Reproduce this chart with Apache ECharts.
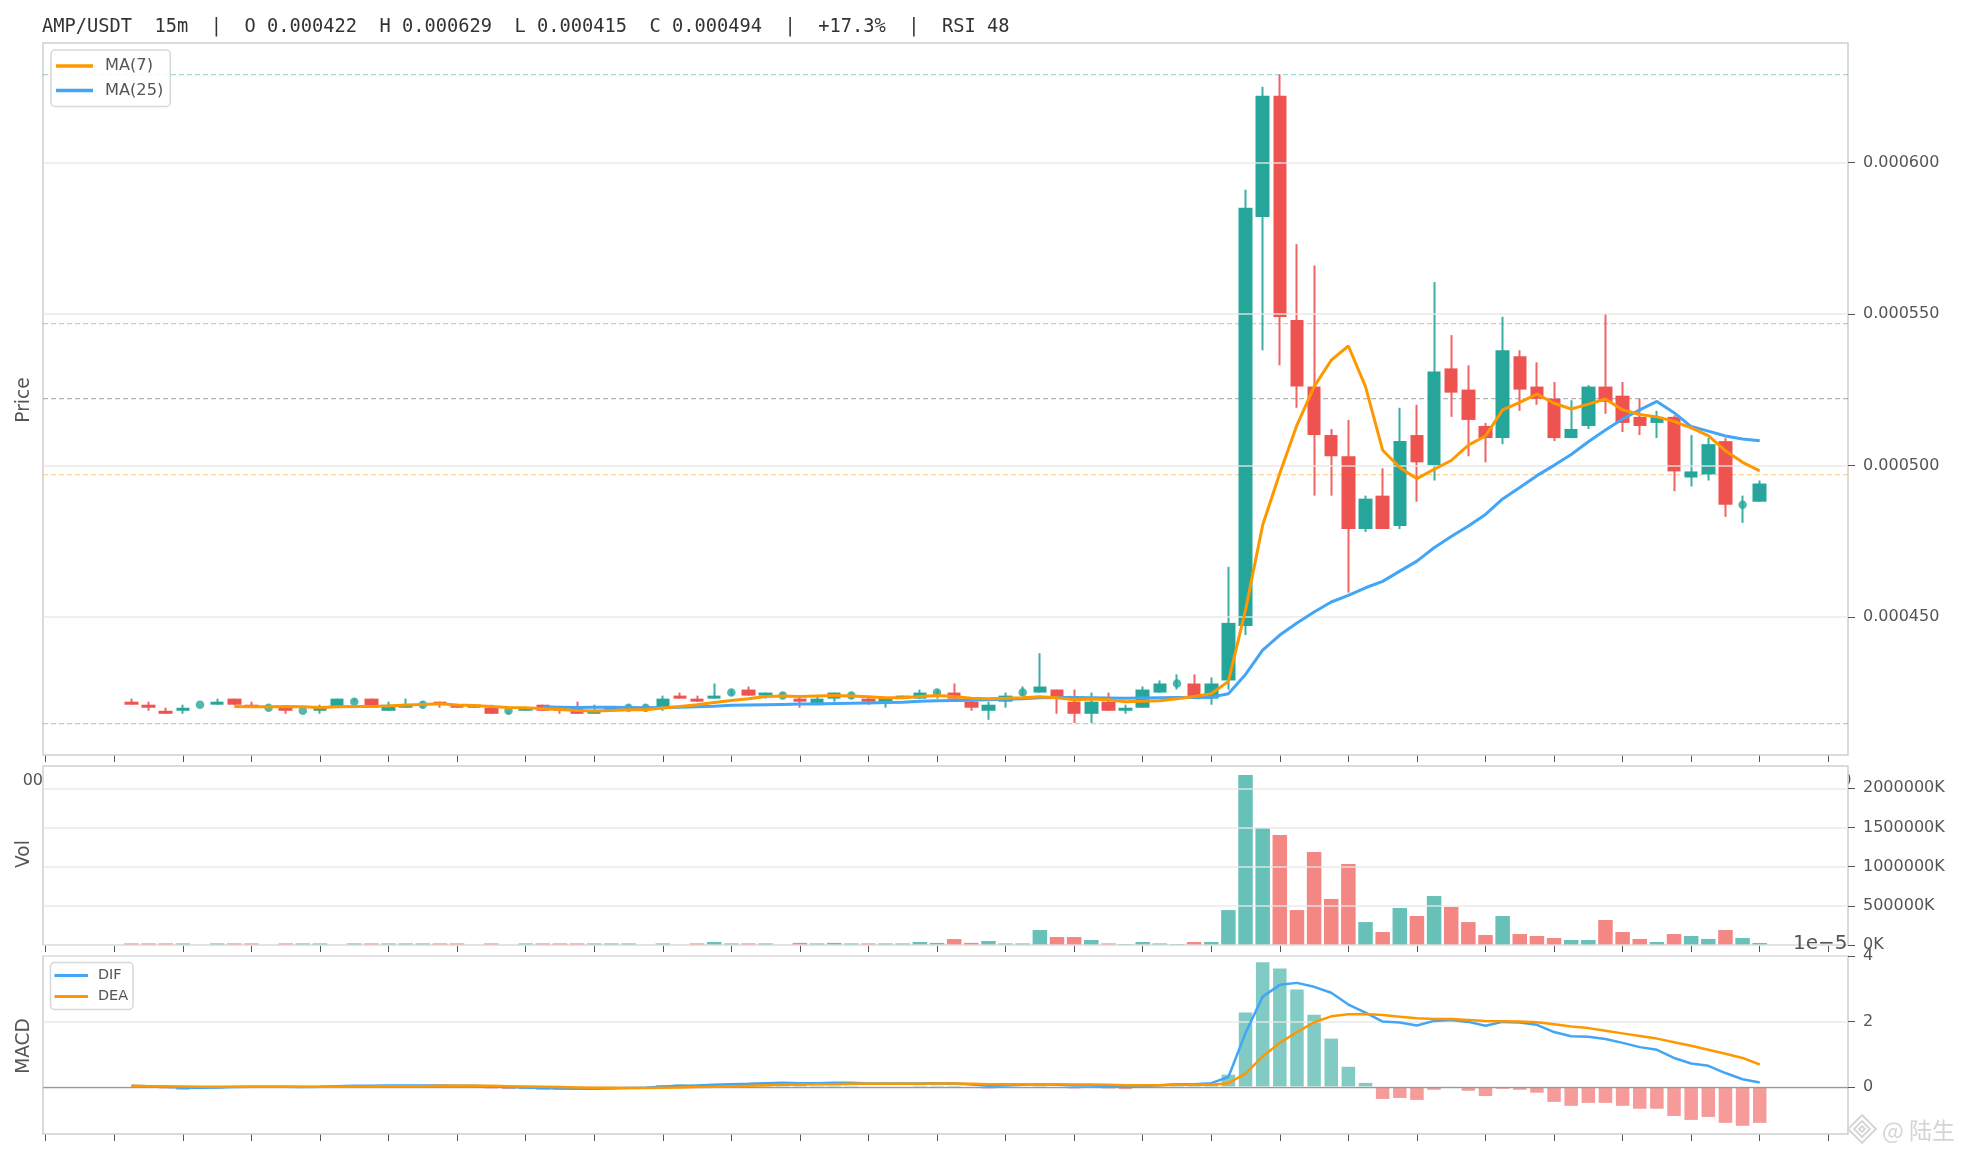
<!DOCTYPE html>
<html><head><meta charset="utf-8">
<style>html,body{margin:0;padding:0;background:#fff}#c{width:1962px;height:1156px}</style>
<script src="https://cdn.jsdelivr.net/npm/echarts@6/dist/echarts.min.js"></script>
</head><body><div id="c"></div>
<script>
// prices are in units of 0.000001 USDT
const opens=[422,421,419,419,421,421,423,421,420,420,419,419,420,422,423,419,420,421,422,421,420,420,419,419,421,420,420,418,419,420,420,420,424,423,423,425,426,424,424,423,421,423,424,423,422,423,423,425,425,422,419,422,425,425,426,422,418,422,419,420,425,428,428,423,429,447,582,622,548,526,510,503,479,490,480,510,500,532,525,513,509,536,526,522,509,513,526,523,516,514,516,496,497,508,487,488];
const closes=[421,420,418,420,421,422,421,420,420,419,419,420,423,422,420,421,421,421,421,420,421,418,419,420,419,419,418,419,420,420,420,423,423,422,424,425,424,425,424,422,423,425,424,422,423,424,425,425,423,420,421,424,425,427,423,418,422,419,420,426,428,428,423,428,448,585,622,549,526,510,503,479,489,479,508,501,531,524,515,509,538,525,522,509,512,526,521,514,513,516,498,498,507,487,487,494];
const lows=[421,419,418,418,421,421,421,420,420,418,419,418,420,422,420,419,420,420,420,420,420,418,418,419,419,418,418,418,419,419,419,419,423,422,423,424,424,423,423,420,421,422,423,421,420,423,423,423,423,419,416,420,424,425,418,415,415,419,418,420,425,426,423,421,426,444,538,533,519,490,490,458,478,479,479,488,495,516,503,501,507,518,520,508,509,512,517,511,510,509,491.5,493,495,483,481,488];
const highs=[423,422,420,421,421,423,423,422,421,420,419,421,423,423,423,422,423,422,422,421,421,421,419,420,421,420,422,421,420,421,421,424,425,424,428,426,427,425,425,424,424,425,425,424,423,424,426,426,428,423,422,425,427,438,426,426,425,425,421,427,429,431,431,430,466.5,591,625,629,573,566,512,515,490,499,519,520,560.5,543,533,514,549,538,534,527.5,521.5,526.5,550,527.5,522,518,516.5,510,509,509,490,495];
const ma7=[420.4,420.3,420.3,420.4,420.3,420.1,420.3,420.4,420.4,420.6,420.9,421.1,421.3,420.9,420.7,420.4,420.1,420,419.7,419.4,419.1,418.9,419.1,419.3,419.3,419.9,420.4,421,421.7,422.4,423,423.7,423.9,423.7,423.9,424,423.9,423.6,423.3,423.3,423.7,424,423.7,423.1,423,423.1,423.3,423.6,423.3,422.6,422.9,422.6,422,422.1,422.3,423,423.7,424.6,428.7,452.3,480.3,497.4,513.3,526,534.7,539.4,526,505,499.3,495.6,498.7,501.6,506.7,509.7,518.3,520.8,523.5,520.5,518.6,520.2,521.9,518.3,516.8,516,514.5,512.4,509.8,504.8,501,498.2];
const ma7Start=6;
const ma25=[420.3,420.2,420.1,420.2,420.2,420.1,420,420.1,420.2,420.3,420.5,420.8,420.9,421,421.1,421.2,421.2,421.4,421.5,421.6,421.7,421.8,422.1,422.3,422.4,422.5,422.6,422.8,423,423.3,423.4,423.4,423.3,423.2,423.1,423.2,423.3,423.4,423.4,423.5,424.6,431,439,444,448,451.6,454.9,457.1,459.6,461.7,465.1,468.4,472.8,476.5,480,483.8,488.9,492.7,496.6,500,503.6,507.8,511.7,515.3,518.3,521.1,517.4,512.8,511.3,509.7,508.7,508.1];
const ma25Start=24;
const refLevels=[629,547,522,497,415];
const refColors=['rgba(38,166,154,.42)','rgba(239,83,80,.42)','rgba(110,110,110,.5)','rgba(255,152,0,.42)','rgba(38,166,154,.42)'];
const volumes=[20000,20000,20000,20000,0,20000,20000,20000,0,20000,20000,20000,0,20000,20000,20000,20000,20000,20000,20000,0,20000,0,20000,20000,20000,20000,20000,20000,20000,0,20000,0,20000,38000,20000,20000,20000,0,27000,20000,27000,20000,20000,20000,20000,38000,27000,76000,27000,51000,20000,20000,191000,102000,102000,64000,20000,13000,38000,20000,13000,38000,38000,446000,2170000,1492000,1403000,446000,1186000,587000,1033000,293000,166000,472000,370000,625000,485000,293000,128000,370000,140000,115000,89000,64000,64000,319000,166000,77000,38000,140000,115000,77000,191000,89000,26000];
const macdHist=[0,0,-.04,-.08,-.06,-.04,-.02,0,0,0,-.02,0,.04,.04,.04,.04,.04,.04,.02,0,0,-.04,-.06,-.06,-.08,-.08,-.08,-.06,-.04,0,.02,.06,.08,.08,.1,.1,.1,.1,.1,.08,.04,.04,.04,.01,.01,.01,.04,.04,.04,-.01,-.04,-.02,.01,.04,0,-.04,0,-.04,-.06,-.02,0,.04,.04,.07,.38,2.28,3.81,3.62,2.98,2.21,1.48,.62,.13,-.36,-.33,-.39,-.08,.01,-.11,-.27,-.05,-.08,-.17,-.45,-.57,-.48,-.48,-.57,-.66,-.66,-.88,-1,-.91,-1.09,-1.18,-1.09];
const dif=[.04,.03,.01,-.02,-.02,-.01,0,.01,.01,.01,0,.01,.03,.04,.04,.05,.05,.05,.05,.04,.04,.02,0,-.01,-.03,-.04,-.05,-.05,-.04,-.03,-.02,.02,.04,.05,.07,.09,.1,.12,.13,.12,.12,.13,.13,.11,.11,.11,.11,.12,.11,.08,.04,.05,.07,.09,.07,.05,.05,.03,.01,.03,.06,.09,.09,.12,.31,1.65,2.76,3.12,3.18,3.06,2.88,2.52,2.27,2,1.97,1.88,2.02,2.05,1.99,1.87,1.99,1.97,1.9,1.68,1.55,1.54,1.47,1.35,1.22,1.14,.89,.72,.65,.43,.24,.14];
const dea=[.04,.03,.03,.02,.01,.01,.01,.01,.01,.01,.01,.01,.01,.02,.02,.03,.03,.03,.04,.04,.04,.04,.03,.02,.01,0,-.01,-.02,-.02,-.03,-.03,-.02,-.01,0,.01,.03,.04,.06,.07,.08,.09,.09,.1,.1,.1,.1,.1,.11,.11,.1,.09,.09,.09,.09,.09,.08,.08,.07,.06,.06,.06,.07,.07,.07,.12,.41,.94,1.35,1.68,1.98,2.16,2.22,2.23,2.2,2.15,2.1,2.08,2.08,2.05,2.02,2.01,2,1.98,1.92,1.85,1.8,1.72,1.64,1.56,1.48,1.37,1.26,1.14,1.02,.89,.69];
const xTicks=[-5,-1,3,7,11,15,19,23,27,31,35,39,43,47,51,55,59,63,67,71,75,79,83,87,91,95,99];
const xEdgeLabels=[-5,99];
const priceTicks=[450,500,550,600];
const volTicks=[0,500000,1000000,1500000,2000000];
const macdTicks=[0,2,4];
const titleText='AMP/USDT  15m  |  O 0.000422  H 0.000629  L 0.000415  C 0.000494  |  +17.3%  |  RSI 48';

const RED='#EF5350',GREEN='#26A69A',ORANGE='#FF9800',BLUE='#42A5F5',SANS='DejaVu Sans';
const idx=opens.map((_,i)=>i);
const isUp=i=>closes[i]>=opens[i];
const grids=[[43,712],[766,179],[956,178]].map(([top,height])=>({left:43,right:114,top,height,show:true,backgroundColor:'#fff',borderColor:'#cfcfcf',borderWidth:1.5}));
const xAxes=grids.map((g,k)=>({type:'value',gridIndex:k,min:-5.16,max:100.15,z:-1,
  axisLine:{show:false,onZero:false},splitLine:{show:false},
  axisTick:{show:true,customValues:xTicks,length:7,lineStyle:{color:'#555',width:1}},
  axisLabel:k===0?{show:true,customValues:xEdgeLabels,margin:18,formatter:()=>'00:00',color:'#555',fontSize:16,fontFamily:SANS}:{show:false}}));
function yAxis(k,min,max,ticks,fmt){return {type:'value',gridIndex:k,position:'right',min,max,z:3,
  axisLine:{show:false,onZero:false},
  axisTick:{show:true,customValues:ticks,length:7,lineStyle:{color:'#555',width:1}},
  axisLabel:{show:true,customValues:ticks,margin:15,formatter:fmt,color:'#555',fontSize:16,fontFamily:SANS,padding:[5,0,0,0]},
  splitLine:{show:true,lineStyle:{color:'rgba(232,232,232,.9)',width:1.5}}};}
const refLines=refLevels.map((v,i)=>({yAxis:v,lineStyle:{color:refColors[i],type:[5,3],width:1.25}}));
const series=[
 {name:'wicks',type:'candlestick',xAxisIndex:0,yAxisIndex:0,z:2,barWidth:2.5,silent:true,
  encode:{x:0,y:[1,2,3,4]},
  data:idx.map(i=>isUp(i)?[i,lows[i],highs[i],lows[i],highs[i]]:[i,highs[i],lows[i],lows[i],highs[i]]),
  itemStyle:{color:GREEN,color0:RED,borderColor:GREEN,borderColor0:RED,borderColorDoji:GREEN,borderWidth:0,opacity:.9},
  markLine:{z:1,silent:true,symbol:'none',label:{show:false},animation:false,data:refLines}},
 {name:'bodies',type:'candlestick',xAxisIndex:0,yAxisIndex:0,z:2,barWidth:14,silent:true,
  encode:{x:0,y:[1,2,3,4]},
  data:idx.filter(i=>opens[i]!==closes[i]).map(i=>[i,opens[i],closes[i],Math.min(opens[i],closes[i]),Math.max(opens[i],closes[i])]),
  itemStyle:{color:GREEN,color0:RED,borderColor:GREEN,borderColor0:RED,borderWidth:0}},
 {name:'doji',type:'scatter',xAxisIndex:0,yAxisIndex:0,z:2,symbolSize:8.5,silent:true,
  data:idx.filter(i=>opens[i]===closes[i]).map(i=>[i,closes[i]]),itemStyle:{color:GREEN}},
 {name:'MA(7)',type:'line',xAxisIndex:0,yAxisIndex:0,z:5,showSymbol:false,data:ma7.map((v,k)=>[k+ma7Start,v]),lineStyle:{color:ORANGE,width:3},itemStyle:{color:ORANGE}},
 {name:'MA(25)',type:'line',xAxisIndex:0,yAxisIndex:0,z:4,showSymbol:false,data:ma25.map((v,k)=>[k+ma25Start,v]),lineStyle:{color:BLUE,width:3},itemStyle:{color:BLUE}},
 {name:'Vol',type:'bar',xAxisIndex:1,yAxisIndex:1,z:2,barWidth:14.5,data:idx.map(i=>({value:[i,volumes[i]],itemStyle:{color:isUp(i)?GREEN:RED,opacity:.7}}))},
 {name:'Hist',type:'bar',xAxisIndex:2,yAxisIndex:2,z:2,barWidth:13.5,data:idx.map(i=>({value:[i,macdHist[i]],itemStyle:{color:macdHist[i]>=0?GREEN:RED,opacity:.58}})),
  markLine:{z:3,silent:true,symbol:'none',label:{show:false},animation:false,data:[{yAxis:0,lineStyle:{color:'#999',type:'solid',width:1.25}}]}},
 {name:'DIF',type:'line',xAxisIndex:2,yAxisIndex:2,z:4,showSymbol:false,data:idx.map(i=>[i,dif[i]]),lineStyle:{color:BLUE,width:2.5},itemStyle:{color:BLUE}},
 {name:'DEA',type:'line',xAxisIndex:2,yAxisIndex:2,z:5,showSymbol:false,data:idx.map(i=>[i,dea[i]]),lineStyle:{color:ORANGE,width:2.5},itemStyle:{color:ORANGE}}
];
const legendBase={orient:'vertical',icon:'rect',backgroundColor:'rgba(255,255,255,.85)',borderColor:'#d8d8d8',borderWidth:1.5,borderRadius:4,z:10,selectedMode:false};
const axisName=(t,x,y)=>({type:'text',x,y,rotation:Math.PI/2,z:20,style:{text:t,fill:'#555',font:'18.6px "DejaVu Sans"',align:'center',verticalAlign:'middle'}});
const wmColor='#d4d4d4';
const rhomb=(cx,cy,r)=>({type:'polygon',z:20,shape:{points:[[cx,cy-r],[cx+r,cy],[cx,cy+r],[cx-r,cy]]},style:{fill:'none',stroke:wmColor,lineWidth:1.8}});
const graphic=[
 axisName('Price',24.5,400),axisName('Vol',24.5,854),axisName('MACD',24.5,1046),
 {type:'text',x:1847.5,y:944,z:20,style:{text:'1e\u22125',fill:'#555',font:'20px "DejaVu Sans"',align:'right',verticalAlign:'middle'}},
 rhomb(1862,1129,14),rhomb(1862,1129,8),rhomb(1862,1129,3),
 {type:'text',x:1882,y:1130,z:20,style:{text:'@ 陆生',fill:wmColor,font:'23px "Noto Sans CJK SC"',align:'left',verticalAlign:'middle'}}
];
const chart=echarts.init(document.getElementById('c'),null,{renderer:'canvas',width:1962,height:1156});
chart.setOption({animation:false,backgroundColor:'#fff',
 title:{text:titleText,left:42,top:17.5,padding:0,textStyle:{fontFamily:'DejaVu Sans Mono',fontSize:18.7,fontWeight:'normal',color:'#333'}},
 tooltip:{show:false},
 legend:[
  Object.assign({},legendBase,{data:['MA(7)','MA(25)'],left:51,top:50,padding:[8,7,8,5],itemWidth:37,itemHeight:3.5,itemGap:8.5,textStyle:{color:'#555',fontSize:16.2,fontFamily:SANS,padding:[0,0,0,7]}}),
  Object.assign({},legendBase,{data:['DIF','DEA'],left:50.5,top:962.5,padding:[6,5,6,4],itemWidth:33.5,itemHeight:3,itemGap:7,textStyle:{color:'#555',fontSize:14.4,fontFamily:SANS,padding:[0,0,0,5]}})
 ],
 grid:grids,xAxis:xAxes,
 yAxis:[
  yAxis(0,404.4,639.4,priceTicks,v=>(v/1e6).toFixed(6)),
  yAxis(1,0,2285000,volTicks,v=>v+'K'),
  yAxis(2,-1.43,4,macdTicks,v=>String(v))
 ],
 series,graphic});
</script></body></html>
